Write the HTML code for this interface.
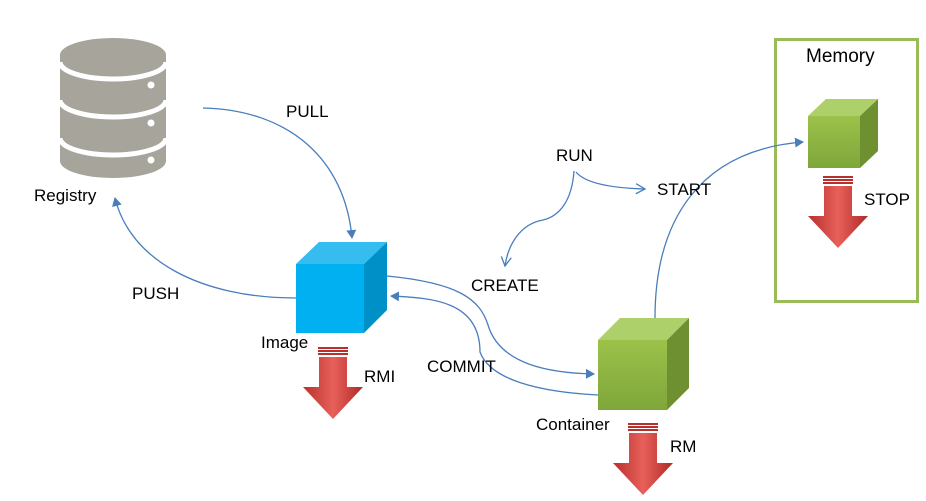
<!DOCTYPE html>
<html><head><meta charset="utf-8"><style>
body{margin:0;background:#fff;}
svg{display:block}
text{font-family:"Liberation Sans","Noto Sans CJK KR",sans-serif;font-size:17px;fill:#000}
</style></head><body>
<svg width="926" height="501" viewBox="0 0 926 501" xmlns="http://www.w3.org/2000/svg">
<defs>
<marker id="ah" markerWidth="10" markerHeight="10" refX="8" refY="5" orient="auto" markerUnits="userSpaceOnUse">
<path d="M0,0 L9,5 L0,10 Z" fill="#4a7ebb"/></marker>
<marker id="oa" markerWidth="12" markerHeight="12" refX="10" refY="6" orient="auto" markerUnits="userSpaceOnUse">
<path d="M1,1 L10,6 L1,11" fill="none" stroke="#4a7ebb" stroke-width="1.3"/></marker>
<linearGradient id="red" x1="0" x2="1"><stop offset="0" stop-color="#b8302c"/><stop offset="0.5" stop-color="#e8605a"/><stop offset="1" stop-color="#b02a26"/></linearGradient>
<linearGradient id="gf" x1="0" y1="0" x2="0" y2="1"><stop offset="0" stop-color="#9cc24a"/><stop offset="1" stop-color="#7ea63a"/></linearGradient>
<g id="rarrow">
<rect x="0" y="0" width="30" height="2" fill="#b8302c"/>
<rect x="0" y="3" width="30" height="2" fill="#b8302c"/>
<rect x="0" y="6" width="30" height="2" fill="#b8302c"/>
<path d="M1,10 H29 V40 H45 L15,72 L-15,40 H1 Z" fill="url(#red)"/>
</g>
</defs>
<g fill="#a6a49b">
<path d="M60,55 A53,17 0 0 1 166,55 V161 A53,17 0 0 1 60,161 Z"/>
</g>
<g fill="none" stroke="#fff" stroke-width="5">
<path d="M60,62 A53,17 0 0 0 166,62"/>
<path d="M60,100 A53,17 0 0 0 166,100"/>
<path d="M60,138 A53,17 0 0 0 166,138"/>
</g>
<g fill="#fff"><circle cx="151" cy="85" r="3.5"/><circle cx="151" cy="123" r="3.5"/><circle cx="151" cy="160" r="3.5"/></g>
<text x="34" y="201">Registry</text>
<path d="M296,264 L319,242 L387,242 L364,264 Z" fill="#35bdf0"/>
<path d="M364,264 L387,242 L387,310 L364,333 Z" fill="#0090c8"/>
<rect x="296" y="264" width="68" height="69" fill="#00b0f0"/>
<text x="261" y="348">Image</text>
<use href="#rarrow" x="318" y="347"/>
<text x="364" y="382">RMI</text>
<path d="M598,340 L620,318 L689,318 L667,340 Z" fill="#aed06a"/>
<path d="M667,340 L689,318 L689,388 L667,410 Z" fill="#6e9030"/>
<rect x="598" y="340" width="69" height="70" fill="url(#gf)"/>
<text x="536" y="430">Container</text>
<use href="#rarrow" x="628" y="423"/>
<text x="670" y="452">RM</text>
<rect x="775.5" y="39.5" width="142" height="262" fill="none" stroke="#9bbb59" stroke-width="3"/>
<text x="806" y="62" style="font-size:19px">Memory</text>
<path d="M808,116 L826,99 L878,99 L860,116 Z" fill="#aed06a"/>
<path d="M860,116 L878,99 L878,151 L860,168 Z" fill="#6e9030"/>
<rect x="808" y="116" width="52" height="52" fill="url(#gf)"/>
<use href="#rarrow" x="823" y="176"/>
<text x="864" y="205">STOP</text>
<g fill="none" stroke="#4a7ebb" stroke-width="1.3">
<path d="M203,108 C290,110 345,160 352,238" marker-end="url(#ah)"/>
<path d="M296,298 C200,298 130,260 115,198" marker-end="url(#ah)"/>
<path d="M387,276 C460,283 480,300 488,325 C500,365 550,373 594,374" marker-end="url(#ah)"/>
<path d="M598,395 C540,392 490,380 480,352 C480,300 430,298 391,296" marker-end="url(#ah)"/>
<path d="M655,318 C655,220 700,150 803,142" marker-end="url(#ah)"/>
<path d="M574,171 C572,200 560,216 543,220 C520,224 508,245 505,266" marker-end="url(#oa)"/>
<path d="M576,172 C585,183 610,188 645,189" marker-end="url(#oa)"/>
</g>
<text x="286" y="117">PULL</text>
<text x="132" y="299">PUSH</text>
<text x="556" y="161">RUN</text>
<text x="657" y="195">START</text>
<text x="471" y="291">CREATE</text>
<text x="427" y="372">COMMIT</text>
</svg>
</body></html>
